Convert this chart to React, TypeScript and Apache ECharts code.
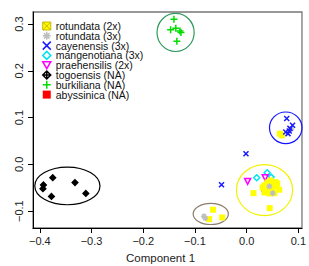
import React, { useEffect, useRef } from "react";
import * as echarts from "echarts";

const xTicks = [-0.4, -0.3, -0.2, -0.1, 0, 0.1];
const yTicks = [-0.1, 0, 0.1, 0.2, 0.3];

const groupNames = [
  "rotundata (2x)",
  "rotundata (3x)",
  "cayenensis (3x)",
  "mangenotiana (3x)",
  "praehensilis (2x)",
  "togoensis (NA)",
  "burkiliana (NA)",
  "abyssinica (NA)",
];

const rotundata2x = [
  [0.0132, -0.0615], [0.0446, -0.0936], [0.063, -0.0542], [0.0535, -0.0615],
  [0.0346, -0.045], [0.0403, -0.0385], [0.0459, -0.0428], [0.0516, -0.0471],
  [0.0573, -0.045], [0.0384, -0.0557], [0.044, -0.0621], [0.0497, -0.0557],
  [0.0346, -0.06], [0.0459, -0.0343], [0.0592, -0.0407], [0.0308, -0.0493],
  [0.0555, -0.038], [0.0643, 0.0657], [0.068, 0.062],
  [-0.065, -0.097], [-0.0473, -0.1135], [-0.0726, -0.117],
];
const rotundata3x = [
  [0.0503, -0.0615], [0.044, -0.047], [0.0862, 0.0756], [-0.08, -0.115], [-0.0826, -0.111],
];
const cayenensis = [
  [0.0775, 0.0979], [0.0888, 0.0835], [0.0824, 0.0713], [0.0756, 0.0692],
  [0.08, 0.0657], [0.0837, 0.077], [-0.0013, 0.0229], [-0.0486, -0.0435],
];
const mangenotiana = [[0.0195, -0.0285], [0.0397, -0.0178], [0.0473, -0.0272]];
const praehensilis = [[0.0019, -0.0364], [0.0359, -0.0285]];
const togoensis = [
  [-0.375, -0.0285], [-0.332, -0.039], [-0.311, -0.062],
  [-0.393, -0.044], [-0.394, -0.052], [-0.3775, -0.0685],
];
const burkiliana = [
  [-0.1406, 0.31], [-0.147, 0.288], [-0.137, 0.291],
  [-0.129, 0.285], [-0.127, 0.282], [-0.135, 0.263],
];
const abyssinica = [[0.0346, -0.0535]];

// ellipses: [cx, cy, rx, ry]
const ellipses = [
  [-0.1374, 0.282, 0.0359, 0.0407],
  [-0.3467, -0.046, 0.063, 0.0403],
  [0.0756, 0.0782, 0.0314, 0.0338],
  [0.0346, -0.055, 0.0543, 0.0546],
  [-0.0694, -0.106, 0.034, 0.0225],
];
const ellipseColors = ["#2e9a5c", "#000000", "#1414ff", "#f2f200", "#8b7d6b"];

const P_PLUS = "path://M5,0V10M0,5H10";
const P_X = "path://M0,0L10,10M10,0L0,10";
const P_AST = "path://M5,0V10M0,5H10M1.5,1.5L8.5,8.5M8.5,1.5L1.5,8.5";
const P_DIAPLUS = "path://M5,0L10,5L5,10L0,5ZM5,0V10M0,5H10";
const P_DIA = "path://M5,0L10,5L5,10L0,5Z";
const P_TRI = "path://M0,0L10,0L5,8.66Z";
const P_SQX = "path://M0,0H10V10H0ZM0,0L10,10M10,0L0,10";

const FONT = "Liberation Sans, Arial, sans-serif";

export default function App() {
  const ref = useRef<HTMLDivElement>(null);
  useEffect(() => {
    const chart = echarts.init(ref.current!, null, { renderer: "svg" });
    const fmt = (v: number) => {
      const s = Math.abs(v).toFixed(1);
      return v < -1e-9 ? "\u2212" + s : s;
    };
    const mk = (
      name: string,
      data: number[][],
      symbol: string,
      size: number,
      fill: string,
      stroke: string,
      bw: number
    ) => ({
      type: "scatter",
      name,
      data,
      symbol,
      symbolSize: size,
      itemStyle: { color: fill, borderColor: stroke, borderWidth: bw, opacity: 1 },
      emphasis: { disabled: true },
    });
    const series: any[] = [
      {
        type: "custom",
        name: "ellipses",
        data: ellipses.map((e, i) => [...e, i]),
        renderItem: (params: any, api: any) => {
          const c = api.coord([api.value(0), api.value(1)]);
          const s = api.size([api.value(2), api.value(3)]);
          return {
            type: "ellipse",
            shape: { cx: c[0], cy: c[1], rx: s[0], ry: s[1] },
            style: { fill: "none", stroke: ellipseColors[api.value(4)], lineWidth: 1.2 },
          };
        },
        silent: true,
        z: 1,
      },
      mk(groupNames[7], abyssinica, "rect", 6, "#ff0000", "#ff0000", 0),
      mk(groupNames[3], mangenotiana, P_DIA, 6, "transparent", "#00e5ee", 1.5),
      mk(groupNames[4], praehensilis, P_TRI, 6, "transparent", "#ff00ff", 1.5),
      mk(groupNames[0], rotundata2x, "rect", 6, "#ffff00", "#ffff00", 0),
      mk(groupNames[1], rotundata3x, P_AST, 6, "transparent", "#bebebe", 1.3),
      mk(groupNames[2], cayenensis, P_X, 5, "transparent", "#1a1aff", 1.5),
      mk(groupNames[5], togoensis, P_DIAPLUS, 6, "#000000", "#000000", 1.2),
      mk(groupNames[6], burkiliana, P_PLUS, 7, "transparent", "#00dd00", 1.5),
    ];
    const legendStyles: any[] = [
      { icon: P_SQX, itemStyle: { color: "#ffff00", borderColor: "#c8b400", borderWidth: 1 } },
      { icon: P_AST, itemStyle: { color: "transparent", borderColor: "#bebebe", borderWidth: 1.5 } },
      { icon: P_X, itemStyle: { color: "transparent", borderColor: "#1a1aff", borderWidth: 1.5 } },
      { icon: P_DIA, itemStyle: { color: "transparent", borderColor: "#00e5ee", borderWidth: 1.5 } },
      { icon: P_TRI, itemStyle: { color: "transparent", borderColor: "#ff00ff", borderWidth: 1.5 } },
      { icon: P_DIAPLUS, itemStyle: { color: "transparent", borderColor: "#000000", borderWidth: 1.5 } },
      { icon: P_PLUS, itemStyle: { color: "transparent", borderColor: "#00dd00", borderWidth: 1.5 } },
      { icon: "rect", itemStyle: { color: "#ff0000", borderColor: "#ff0000", borderWidth: 0 } },
    ];
    chart.setOption({
      animation: false,
      grid: {
        left: 33,
        top: 12,
        right: 1,
        bottom: 38,
        show: true,
        borderColor: "#777777",
        borderWidth: 1.3,
        backgroundColor: "transparent",
      },
      legend: {
        orient: "vertical",
        left: 42,
        top: 20.5,
        padding: 0,
        itemWidth: 8,
        itemHeight: 8,
        itemGap: -1.2,
        selectedMode: false,
        data: groupNames.map((n, i) => ({ name: n, ...legendStyles[i] })),
        textStyle: { fontSize: 10.5, fontFamily: FONT, color: "#111" },
      },
      xAxis: {
        type: "value",
        min: -0.4132,
        max: 0.107,
        splitLine: { show: false },
        axisLine: { show: true, onZero: false, lineStyle: { color: "#000", width: 1 } },
        axisTick: { show: true, length: 5, customValues: xTicks, lineStyle: { color: "#000" } },
        axisLabel: {
          customValues: xTicks,
          formatter: fmt,
          fontSize: 11,
          fontFamily: FONT,
          color: "#222",
          margin: 7,
          showMinLabel: true,
          showMaxLabel: true,
          hideOverlap: false,
        },
      },
      yAxis: {
        type: "value",
        min: -0.136,
        max: 0.3257,
        splitLine: { show: false },
        axisLine: { show: true, onZero: false, lineStyle: { color: "#000", width: 1 } },
        axisTick: { show: true, length: 5, customValues: yTicks, lineStyle: { color: "#000" } },
        axisLabel: {
          customValues: yTicks,
          formatter: fmt,
          rotate: 90,
          fontSize: 11,
          fontFamily: FONT,
          color: "#222",
          margin: 9,
        },
      },
      graphic: [
        {
          type: "text",
          left: 126,
          top: 252,
          style: { text: "Component 1", fontSize: 11.5, fontFamily: FONT, fill: "#222" },
        },
      ],
      series,
    });
    return () => chart.dispose();
  }, []);
  return <div ref={ref} style={{ width: 309, height: 266, position: "absolute", left: 0, top: 0 }} />;
}
